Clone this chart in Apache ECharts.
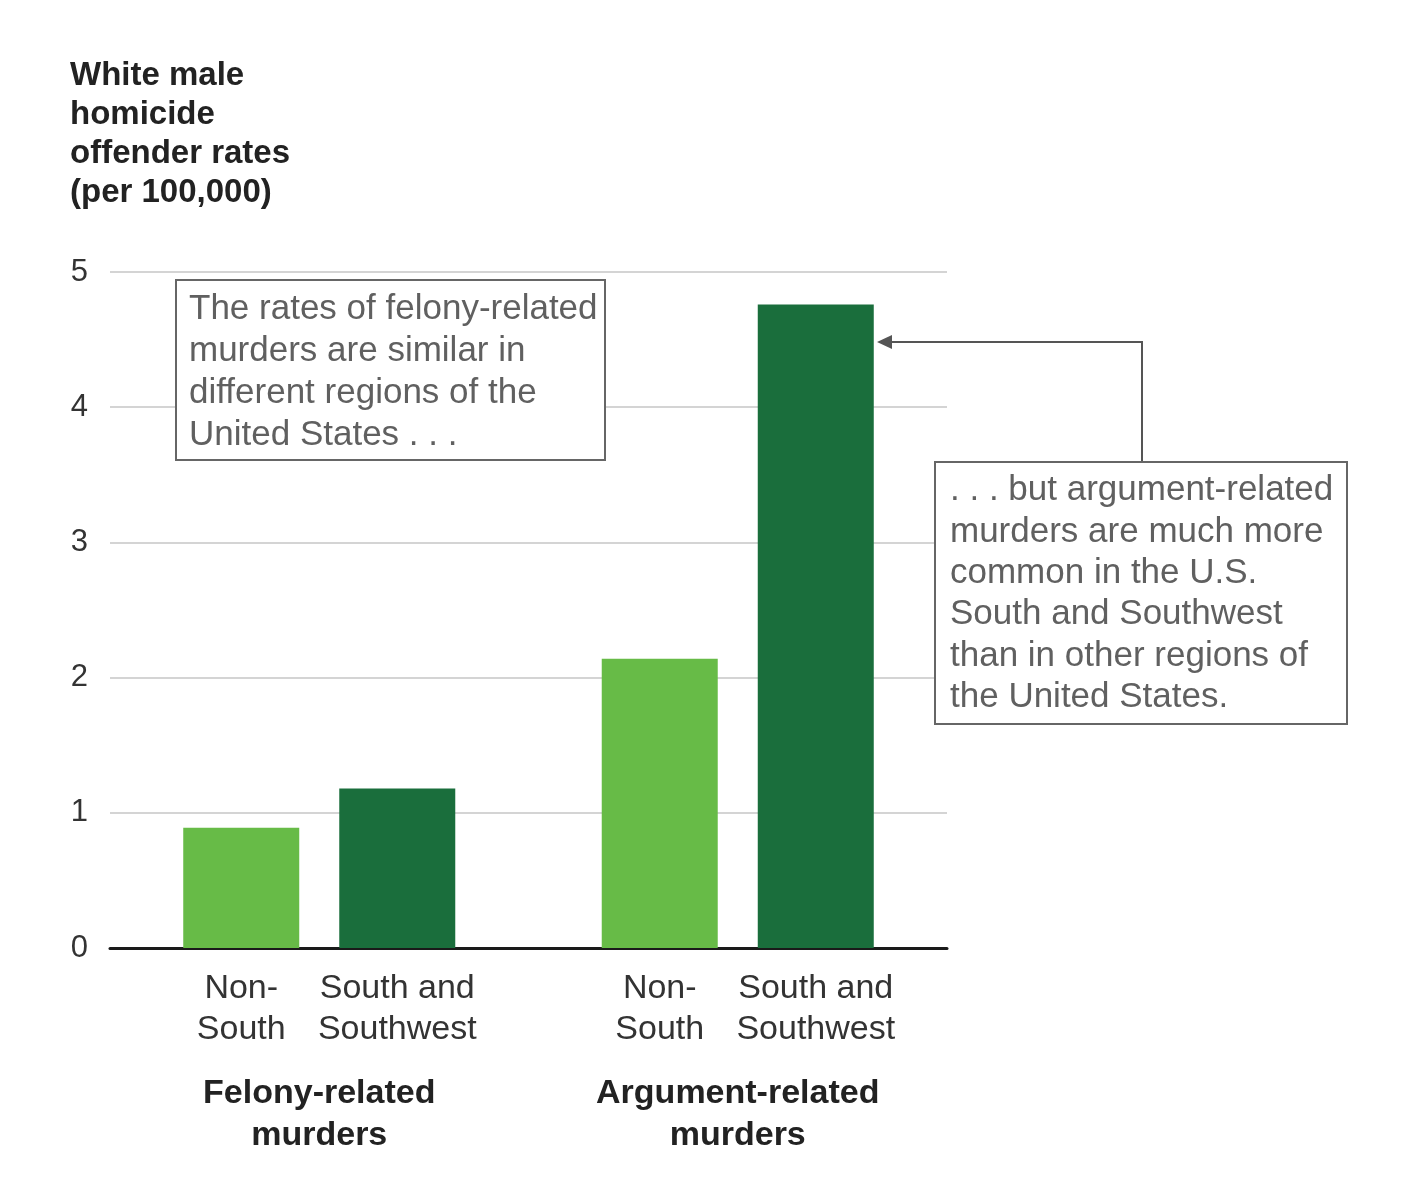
<!DOCTYPE html>
<html>
<head>
<meta charset="utf-8">
<script src="https://cdn.jsdelivr.net/npm/echarts@6/dist/echarts.min.js"></script>
<style>
  html, body { margin: 0; padding: 0; background: #fff; }
  #chart { width: 1404px; height: 1200px; }
</style>
</head>
<body>
<div id="chart"></div>
<script>
// data
var categories = ['Felony-related\nmurders', 'Argument-related\nmurders']
var regions = ['Non-\nSouth', 'South and\nSouthwest']
var seriesNames = ['Non-South', 'South and Southwest']
var nonSouth = [0.89, 2.14]
var southSouthwest = [1.18, 4.76]
var yTicks = [0, 1, 2, 3, 4, 5]

var font = '"Liberation Sans", Arial, Helvetica, sans-serif'
var colors = ['#67bb47', '#1a6e3c']

var chart = echarts.init(document.getElementById('chart'))

function barSeries(name, values, idx) {
    return {
        name: name,
        type: 'bar',
        data: values,
        barWidth: 116,
        barGap: '34.5%',
        itemStyle: { color: colors[idx] },
        label: {
            show: true,
            position: 'bottom',
            distance: 20,
            formatter: function () { return regions[idx] },
            fontSize: 34,
            lineHeight: 41,
            color: '#333',
            fontFamily: font
        },
        emphasis: { disabled: true }
    }
}

var option = {
    animation: false,
    backgroundColor: '#fff',
    textStyle: { fontFamily: font },
    grid: { left: 110, right: 457, top: 272, bottom: 252 },
    xAxis: {
        type: 'category',
        data: categories,
        axisLine: { lineStyle: { color: '#1a1a1a', width: 3 } },
        axisTick: { show: false },
        axisLabel: {
            margin: 125,
            fontSize: 34,
            fontWeight: 'bold',
            lineHeight: 42,
            color: '#222',
            fontFamily: font
        }
    },
    yAxis: {
        type: 'value',
        min: yTicks[0],
        max: yTicks[yTicks.length - 1],
        interval: 1,
        axisLine: { show: false },
        axisTick: { show: false },
        axisLabel: { fontSize: 31, color: '#333', margin: 22, fontFamily: font },
        splitLine: { lineStyle: { color: '#d4d4d4', width: 2 } }
    },
    series: [
        barSeries(seriesNames[0], nonSouth, 0),
        barSeries(seriesNames[1], southSouthwest, 1)
    ],
    graphic: [
        {
            type: 'text', left: 70, top: 56, z: 10,
            style: {
                text: 'White male\nhomicide\noffender rates\n(per 100,000)',
                font: 'bold 33px ' + font,
                lineHeight: 39,
                fill: '#222'
            }
        },
        {
            type: 'rect', z: 10,
            shape: { x: 176, y: 280, width: 429, height: 180 },
            style: { fill: '#fff', stroke: '#666', lineWidth: 2 }
        },
        {
            type: 'text', left: 189, top: 288, z: 11,
            style: {
                text: 'The rates of felony-related\nmurders are similar in\ndifferent regions of the\nUnited States . . .',
                font: '35px ' + font,
                lineHeight: 42,
                fill: '#606060'
            }
        },
        {
            type: 'polyline', z: 10,
            shape: { points: [[1142, 462], [1142, 342], [886, 342]] },
            style: { stroke: '#555', lineWidth: 2, fill: null }
        },
        {
            type: 'polygon', z: 10,
            shape: { points: [[877, 342], [892, 335], [892, 349]] },
            style: { fill: '#555' }
        },
        {
            type: 'rect', z: 10,
            shape: { x: 935, y: 462, width: 412, height: 262 },
            style: { fill: '#fff', stroke: '#666', lineWidth: 2 }
        },
        {
            type: 'text', left: 950, top: 470, z: 11,
            style: {
                text: '. . . but argument-related\nmurders are much more\ncommon in the U.S.\nSouth and Southwest\nthan in other regions of\nthe United States.',
                font: '35px ' + font,
                lineHeight: 41.3,
                fill: '#606060'
            }
        }
    ]
}

chart.setOption(option)
</script>
</body>
</html>
